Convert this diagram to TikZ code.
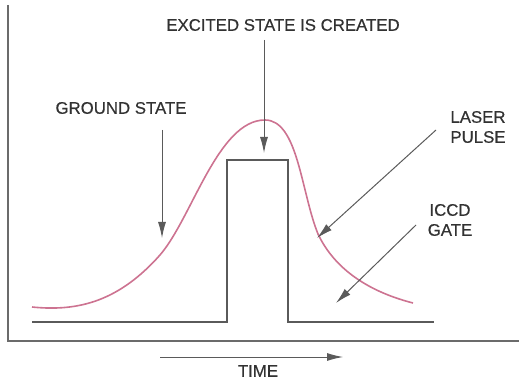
\documentclass[tikz,border=0pt]{standalone}
\usepackage{fontspec}
\setmainfont{Liberation Sans}
\newfontfamily\lblfont[FakeBold=0.5]{Liberation Sans}
\usetikzlibrary{arrows.meta}
\definecolor{pulse}{RGB}{205,115,145}
\definecolor{lbl}{RGB}{50,50,50}
\definecolor{gate}{RGB}{90,90,90}
\tikzset{
  lab/.style={inner sep=0pt, text=lbl, font=\lblfont\fontsize{8.4}{10}\selectfont, align=center},
  ptr/.style={draw=gate, line width=0.5pt, -{Latex[length=8pt,width=4pt]}},
  axisline/.style={draw=gate!90, line width=0.7pt},
}
\begin{document}
\begin{tikzpicture}[x=0.5pt,y=-0.5pt]
\useasboundingbox (0,0) rectangle (519,379);
% axes
\draw[axisline] (8,5) -- (8,341) -- (519,341);
% ICCD gate
\draw[draw=gate, line width=0.8pt] (32,322) -- (227,322) -- (227,160) -- (288,160) -- (288,322) -- (434,322);
% laser pulse
\draw[draw=pulse, line width=0.8pt] (32,307)
  .. controls (80,312) and (120,300) .. (160,255)
  .. controls (192,218) and (218,120) .. (265,120)
  .. controls (298,120) and (301,192) .. (318,234)
  .. controls (335,270) and (370,292) .. (413,303);
% labels
\node[lab] (exc) at (283,25) {EXCITED STATE IS CREATED};
\node[lab] (gnd) at (121,108) {GROUND STATE};
\node[lab] (las) at (478,127) {LASER\\PULSE};
\node[lab] (iccd) at (450,220) {ICCD\\GATE};
\node[lab] (time) at (258,371) {TIME};
% arrow endpoints
\coordinate (excS) at (264,40);
\coordinate (excE) at (264,153);
\coordinate (gndS) at (162,130);
\coordinate (gndE) at (162,238);
\coordinate (lasS) at (436,130);
\coordinate (lasE) at (317,238);
\coordinate (iccdS) at (416,225);
\coordinate (iccdE) at (336,303);
\coordinate (tS) at (160,357);
\coordinate (tE) at (343,357);
\draw[ptr] (excS) -- (excE);
\draw[ptr] (gndS) -- (gndE);
\draw[ptr] (lasS) -- (lasE);
\draw[ptr] (iccdS) -- (iccdE);
\draw[ptr] (tS) -- (tE);
\end{tikzpicture}
\end{document}
